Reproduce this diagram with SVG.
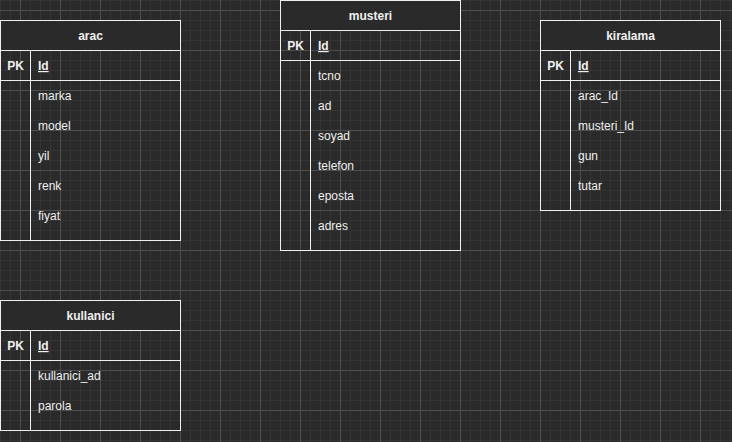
<svg xmlns="http://www.w3.org/2000/svg" width="732" height="442" viewBox="0 0 732 442">
<defs>
<pattern id="minor" width="10" height="10" patternUnits="userSpaceOnUse" x="0" y="0">
<path d="M0 0.5H10M0.5 0V10" fill="none" stroke="#343434" stroke-width="1"/>
</pattern>
<pattern id="major" width="40" height="40" patternUnits="userSpaceOnUse" x="20" y="10">
<path d="M0 0.5H40M0.5 0V40" fill="none" stroke="#4e4e4e" stroke-width="1"/>
</pattern>
</defs>
<style>
text{font-family:"Liberation Sans",Arial,Helvetica,sans-serif;font-size:12px;fill:#f0f0f0}
.h{font-weight:bold;text-anchor:middle}
.pk{font-weight:bold;text-anchor:middle}
.id{font-weight:bold;text-decoration:underline}
.box{fill:none;stroke:#f0f0f0;stroke-width:1}
.hd{fill:#2a2a2a;stroke:#f0f0f0;stroke-width:1}
.ln{stroke:#f0f0f0;stroke-width:1;fill:none}
</style>
<rect width="732" height="442" fill="#2a2a2a"/>
<rect width="732" height="442" fill="url(#minor)"/>
<rect width="732" height="442" fill="url(#major)"/>
<g id="connectors"/>
<g id="arac">
<rect class="box" x="0.5" y="20.5" width="180" height="220"/>
<rect class="hd" x="0.5" y="20.5" width="180" height="30"/>
<path class="ln" d="M0.5 80.5H180.5M30.5 50.5V240.5"/>
<text class="h" x="90.5" y="40">arac</text>
<text class="pk" x="15.5" y="70">PK</text>
<text class="id" x="38" y="70">Id</text>
<text x="38" y="100">marka</text>
<text x="38" y="130">model</text>
<text x="38" y="160">yil</text>
<text x="38" y="190">renk</text>
<text x="38" y="220">fiyat</text>
</g>
<g id="musteri">
<rect class="box" x="280.5" y="0.5" width="180" height="250"/>
<rect class="hd" x="280.5" y="0.5" width="180" height="30"/>
<path class="ln" d="M280.5 60.5H460.5M310.5 30.5V250.5"/>
<text class="h" x="370.5" y="20">musteri</text>
<text class="pk" x="295.5" y="50">PK</text>
<text class="id" x="318" y="50">Id</text>
<text x="318" y="80">tcno</text>
<text x="318" y="110">ad</text>
<text x="318" y="140">soyad</text>
<text x="318" y="170">telefon</text>
<text x="318" y="200">eposta</text>
<text x="318" y="230">adres</text>
</g>
<g id="kiralama">
<rect class="box" x="540.5" y="20.5" width="180" height="190"/>
<rect class="hd" x="540.5" y="20.5" width="180" height="30"/>
<path class="ln" d="M540.5 80.5H720.5M570.5 50.5V210.5"/>
<text class="h" x="630.5" y="40">kiralama</text>
<text class="pk" x="555.5" y="70">PK</text>
<text class="id" x="578" y="70">Id</text>
<text x="578" y="100">arac_Id</text>
<text x="578" y="130">musteri_Id</text>
<text x="578" y="160">gun</text>
<text x="578" y="190">tutar</text>
</g>
<g id="kullanici">
<rect class="box" x="0.5" y="300.5" width="180" height="130"/>
<rect class="hd" x="0.5" y="300.5" width="180" height="30"/>
<path class="ln" d="M0.5 360.5H180.5M30.5 330.5V430.5"/>
<text class="h" x="90.5" y="320">kullanici</text>
<text class="pk" x="15.5" y="350">PK</text>
<text class="id" x="38" y="350">Id</text>
<text x="38" y="380">kullanici_ad</text>
<text x="38" y="410">parola</text>
</g>
</svg>
